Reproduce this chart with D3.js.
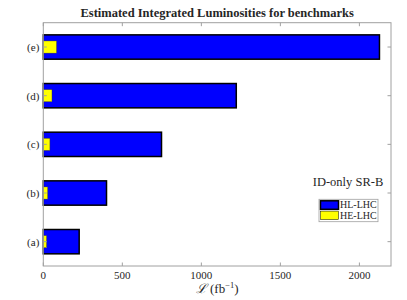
<!DOCTYPE html>
<html>
<head>
<meta charset="utf-8">
<script src="https://cdn.jsdelivr.net/npm/d3@7"></script>
<style>
  body { margin: 0; background: #fff; }
  text { font-family: "Liberation Serif", "DejaVu Serif", serif; fill: #262626; }
</style>
</head>
<body>
<div id="chart"></div>
<script>
// benchmark categories, bottom to top
var categories = ["(a)", "(b)", "(c)", "(d)", "(e)"];
// luminosity needed (fb^-1)
var hlValues = [227, 400, 748, 1221, 2127];
var heValues = [21, 28, 42, 55, 84];
var xTicks = [0, 500, 1000, 1500, 2000];
var seriesNames = ["HL-LHC", "HE-LHC"];
var seriesColors = ["#0000ff", "#ffff00"];

var svgWidth = 407, svgHeight = 300;
var margin = {top: 22.7, right: 16, bottom: 34, left: 43.3};
var width = svgWidth - margin.left - margin.right;
var height = svgHeight - margin.top - margin.bottom;

var svg = d3.select("#chart").append("svg")
    .attr("width", svgWidth)
    .attr("height", svgHeight);

var g = svg.append("g")
    .attr("transform", `translate(${margin.left}, ${margin.top})`);

var x = d3.scaleLinear().domain([0, 2200]).range([0, width]);
var y = d3.scaleLinear().domain([0.5, categories.length + 0.5]).range([height, 0]);

// bars
g.selectAll(".hl").data(hlValues).enter().append("rect")
    .attr("x", x(0))
    .attr("y", (d, i) => y(i + 1.25))
    .attr("width", d => x(d) - x(0))
    .attr("height", y(0.75) - y(1.25))
    .attr("fill", seriesColors[0])
    .attr("stroke", "#000")
    .attr("stroke-width", 1.5);

g.selectAll(".he").data(heValues).enter().append("rect")
    .attr("x", x(0))
    .attr("y", (d, i) => y(i + 1.125))
    .attr("width", d => x(d) - x(0))
    .attr("height", y(0.875) - y(1.125))
    .attr("fill", seriesColors[1])
    .attr("stroke", "#333")
    .attr("stroke-width", 0.4);

// axes box
var axisColor = "#a0a0a0";
g.append("rect")
    .attr("x", 0).attr("y", 0)
    .attr("width", width).attr("height", height)
    .attr("fill", "none")
    .attr("stroke", axisColor)
    .attr("stroke-width", 1);

// x ticks (inward, top and bottom)
xTicks.forEach(function(t) {
    g.append("line").attr("x1", x(t)).attr("x2", x(t))
        .attr("y1", height).attr("y2", height - 3.5)
        .attr("stroke", axisColor);
    g.append("line").attr("x1", x(t)).attr("x2", x(t))
        .attr("y1", 0).attr("y2", 3.5)
        .attr("stroke", axisColor);
    g.append("text")
        .attr("x", x(t)).attr("y", height + 13.5)
        .attr("text-anchor", "middle")
        .attr("font-size", 11)
        .text(t);
});

// y ticks (inward, left and right)
categories.forEach(function(c, i) {
    g.append("line").attr("x1", 0).attr("x2", 3.5)
        .attr("y1", y(i + 1)).attr("y2", y(i + 1))
        .attr("stroke", axisColor);
    g.append("line").attr("x1", width).attr("x2", width - 3.5)
        .attr("y1", y(i + 1)).attr("y2", y(i + 1))
        .attr("stroke", axisColor);
    g.append("text")
        .attr("x", -4).attr("y", y(i + 1))
        .attr("dy", "0.35em")
        .attr("text-anchor", "end")
        .attr("font-size", 11)
        .text(c);
});

// x label
var xl = svg.append("text")
    .attr("x", margin.left + width / 2)
    .attr("y", 293)
    .attr("text-anchor", "middle")
    .attr("font-size", 13);
xl.append("tspan").attr("font-style", "italic").text("\u2112");
xl.append("tspan").text(" (fb");
xl.append("tspan").attr("font-size", 8.5).attr("dy", -5).text("\u22121");
xl.append("tspan").attr("dy", 5).text(")");

// title
svg.append("text")
    .attr("x", margin.left + width / 2)
    .attr("y", 17)
    .attr("text-anchor", "middle")
    .attr("font-size", 12.5)
    .attr("font-weight", "bold")
    .attr("fill", "#000")
    .text("Estimated Integrated Luminosities for benchmarks");

// annotation
svg.append("text")
    .attr("x", 348)
    .attr("y", 186)
    .attr("text-anchor", "middle")
    .attr("font-size", 12.5)
    .text("ID-only SR-B");

// legend
var legend = svg.append("g").attr("transform", "translate(319, 199.3)");
legend.append("rect")
    .attr("width", 59).attr("height", 22.4)
    .attr("fill", "#fff")
    .attr("stroke", "#a0a0a0")
    .attr("stroke-width", 0.8);
seriesNames.forEach(function(s, i) {
    legend.append("rect")
        .attr("x", 1.5).attr("y", 1.5 + i * 10.3)
        .attr("width", 18).attr("height", 8.5)
        .attr("fill", seriesColors[i])
        .attr("stroke", "#000")
        .attr("stroke-width", i === 0 ? 1.5 : 0.5);
    legend.append("text")
        .attr("x", 21).attr("y", 5.5 + i * 10.3)
        .attr("dy", "0.35em")
        .attr("font-size", 10)
        .attr("fill", "#000")
        .text(s);
});
</script>
</body>
</html>
